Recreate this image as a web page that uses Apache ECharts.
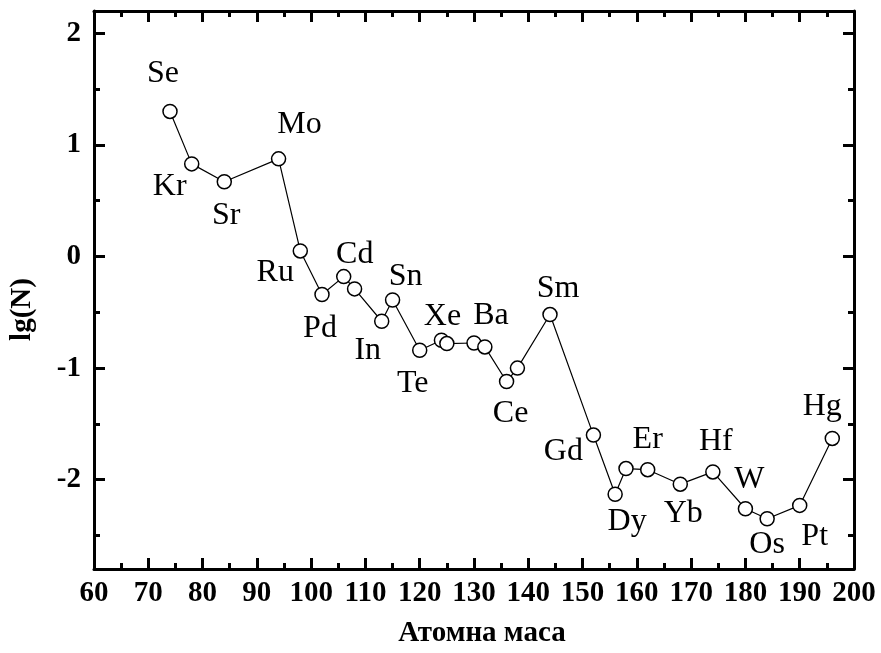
<!DOCTYPE html>
<html><head><meta charset="utf-8">
<script src="https://cdn.jsdelivr.net/npm/echarts@6/dist/echarts.min.js"></script>
<style>html,body{margin:0;padding:0;background:#fff}#c{width:881px;height:653px}</style>
</head><body><div id="c"></div>
<script>
// ---- data ----
const atomicMass = [74, 78, 84, 94, 98, 102, 106, 108, 113, 115, 120, 124, 125, 130, 132, 136, 138, 144, 152, 156, 158, 162, 168, 174, 180, 184, 190, 196];
const lgN = [1.30, 0.83, 0.67, 0.875, 0.05, -0.34, -0.18, -0.29, -0.58, -0.39, -0.84, -0.75, -0.78, -0.775, -0.81, -1.12, -1.00, -0.52, -1.60, -2.13, -1.90, -1.91, -2.04, -1.93, -2.26, -2.35, -2.23, -1.63];
const elementLabels = ['Se', 'Kr', 'Sr', 'Mo', 'Ru', 'Pd', 'Cd', '', 'In', 'Sn', 'Te', 'Xe', '', 'Ba', '', 'Ce', '', 'Sm', 'Gd', 'Dy', '', 'Er', 'Yb', 'Hf', 'W', 'Os', 'Pt', 'Hg'];
const xAxisTitle = 'Атомна маса';
const yAxisTitle = 'lg(N)';

// ---- layout of element labels (pixel offsets from the marker) ----
const labelOffsets = [[-7, -38], [-22, 23], [2, 34], [21, -34], [-25, 22], [-2, 34], [11, -22], null, [-14, 29], [13, -23], [-7, 33], [1, -24], null, [17, -27], null, [4, 32], null, [8, -26], [-30, 17], [12, 27], null, [0, -30], [3, 29], [3, -30], [4, -29], [0, 26], [15, 31], [-10, -32]];

const FONT = "'Liberation Serif', 'Times New Roman', serif";
const chart = echarts.init(document.getElementById('c'), null, {renderer: 'canvas'});

const seriesData = atomicMass.map((m, i) => {
  const item = {value: [m, lgN[i]], name: elementLabels[i]};
  if (elementLabels[i]) {
    item.label = {show: true, position: 'inside', offset: labelOffsets[i], formatter: elementLabels[i]};
  }
  return item;
});

const axisLineStyle = {color: '#000', width: 3};
const tickStyle = {color: '#000', width: 3};

function yMinor(position) {
  return {
    type: 'value', position: position, min: -2.8, max: 2.2, minInterval: 0.5, maxInterval: 0.5,
    axisLine: {show: false}, axisLabel: {show: false}, splitLine: {show: false},
    axisTick: {show: true, inside: true, length: 6, lineStyle: tickStyle}
  };
}

chart.setOption({
  animation: false,
  backgroundColor: '#fff',
  grid: {left: 94, right: 27, top: 11, bottom: 81, containLabel: false},
  xAxis: [
    {
      type: 'value', position: 'bottom', min: 60, max: 200, interval: 10,
      name: xAxisTitle, nameLocation: 'middle', nameGap: 50,
      nameTextStyle: {fontFamily: FONT, fontWeight: 'bold', fontSize: 29, color: '#000', padding: [0, 0, 0, 16]},
      axisLine: {show: true, onZero: false, lineStyle: axisLineStyle},
      axisTick: {show: true, inside: true, length: 11, lineStyle: tickStyle},
      minorTick: {show: true, splitNumber: 2, length: 6, lineStyle: tickStyle},
      axisLabel: {show: true, margin: 10, fontFamily: FONT, fontWeight: 'bold', fontSize: 29, color: '#000', showMinLabel: true, showMaxLabel: true},
      splitLine: {show: false}
    },
    {
      type: 'value', position: 'top', min: 60, max: 200, interval: 10,
      axisLine: {show: true, onZero: false, lineStyle: axisLineStyle},
      axisTick: {show: true, inside: true, length: 11, lineStyle: tickStyle},
      minorTick: {show: true, splitNumber: 2, length: 6, lineStyle: tickStyle},
      axisLabel: {show: false}, splitLine: {show: false}
    }
  ],
  yAxis: [
    {
      type: 'value', position: 'left', min: -2.8, max: 2.2, minInterval: 1, maxInterval: 1,
      name: yAxisTitle, nameLocation: 'middle', nameGap: 57, nameRotate: 90,
      nameTextStyle: {fontFamily: FONT, fontWeight: 'bold', fontSize: 29, color: '#000', padding: [0, 39, 0, 0]},
      axisLine: {show: true, onZero: false, lineStyle: axisLineStyle},
      axisTick: {show: true, inside: true, length: 11, lineStyle: tickStyle},
      axisLabel: {show: true, margin: 13, fontFamily: FONT, fontWeight: 'bold', fontSize: 29, color: '#000',
        formatter: v => (Math.abs(v - Math.round(v)) < 1e-6 ? String(Math.round(v)) : '')},
      splitLine: {show: false}
    },
    {
      type: 'value', position: 'right', min: -2.8, max: 2.2, minInterval: 1, maxInterval: 1,
      axisLine: {show: true, onZero: false, lineStyle: axisLineStyle},
      axisTick: {show: true, inside: true, length: 11, lineStyle: tickStyle},
      axisLabel: {show: false}, splitLine: {show: false}
    },
    yMinor('left'),
    yMinor('right')
  ],
  series: [{
    type: 'line',
    xAxisIndex: 0, yAxisIndex: 0,
    data: seriesData,
    symbol: 'circle', symbolSize: 14,
    itemStyle: {color: '#fff', borderColor: '#000', borderWidth: 1.5},
    lineStyle: {color: '#000', width: 1.2},
    label: {show: false, fontFamily: FONT, fontSize: 32, color: '#000', align: 'center', verticalAlign: 'middle'},
    emphasis: {disabled: true},
    z: 3
  }]
});
</script>
</body></html>
